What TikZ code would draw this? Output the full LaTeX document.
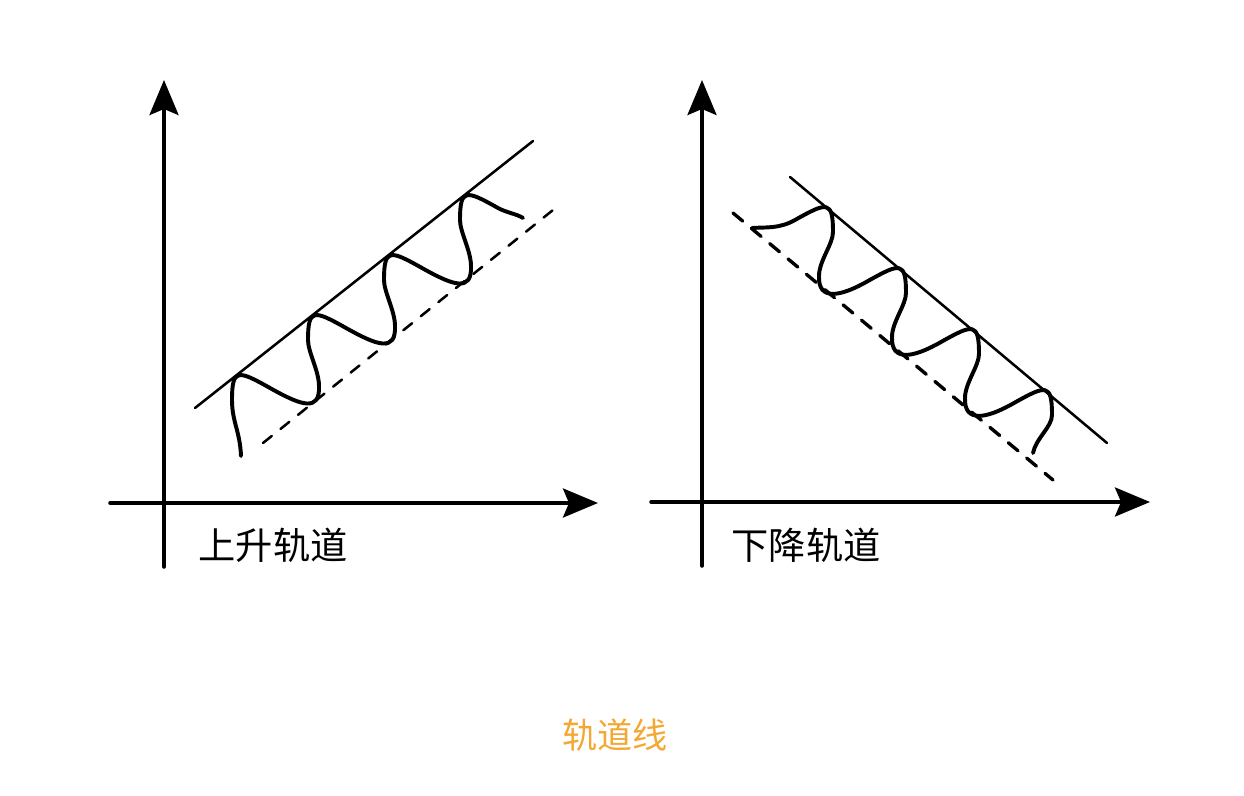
\documentclass[tikz,border=0pt]{standalone}
\usepackage{fontspec}
\newfontfamily\cjk{Noto Sans CJK SC}
\usepackage{tikz}
\usetikzlibrary{arrows.meta, calc}
\definecolor{TitleOrange}{RGB}{243,168,52}
\newcommand{\LabelFont}{\cjk\fontsize{26.5pt}{30pt}\selectfont}

\begin{document}
\begin{tikzpicture}[x=0.025cm, y=-0.025cm, line cap=round, line join=round,
	axis/.style={line width=2.5pt, -{Stealth[length=0.875cm, width=0.725cm, inset=0.15cm]}},
	channel/.style={line width=1.8pt},
	guide/.style={line width=1.8pt, dash pattern=on 8pt off 8pt},
	wave/.style={line width=2.8pt}]

	\useasboundingbox (0,0) rectangle (1244,796);

	% left panel: rising channel
	\coordinate (A0) at (164,567);
	\coordinate (A1) at (164,80);
	\coordinate (B0) at (110,503);
	\coordinate (B1) at (598,503);
	\draw[axis] (A0) -- (A1);
	\draw[axis] (B0) -- (B1);

	\draw[channel] (195,408) -- (533,141);
	\draw[guide] (263,443) -- (553,210);

	\draw[wave] (241,456) .. controls (240,431) and (232,422) .. (232,400)
		.. controls (232,368) and (238,370) .. (270,388)
		.. controls (302,406) and (320,412) .. (319,386)
		.. controls (319,371) and (308,352) .. (308,340)
		.. controls (308,308) and (314,310) .. (346,328)
		.. controls (378,346) and (396,352) .. (395,326)
		.. controls (395,311) and (384,292) .. (384,280)
		.. controls (384,248) and (390,250) .. (422,268)
		.. controls (454,286) and (472,292) .. (471,266)
		.. controls (471,251) and (460,232) .. (460,220)
		.. controls (460,188) and (466,190) .. (498,208)
		.. controls (506,212.5) and (517,214) .. (523,218);

	\node[inner sep=0pt] (up) at (273,545) {\LabelFont 上升轨道};

	% right panel: falling channel
	\coordinate (C0) at (702,566);
	\coordinate (C1) at (702,80);
	\coordinate (D0) at (651,502);
	\coordinate (D1) at (1150,502);
	\draw[axis] (C0) -- (C1);
	\draw[axis] (D0) -- (D1);

	\draw[channel] (790,177) -- (1107,443);
	\draw[guide, line width=2.4pt, dash pattern=on 9pt off 8pt] (733,213) -- (1053,480);

	\draw[wave] (752,228) .. controls (766,227) and (779,229) .. (795,220)
		.. controls (827,202) and (833,200) .. (833,232)
		.. controls (833,244) and (819,261) .. (819,276)
		.. controls (818,301) and (840,297) .. (868,281)
		.. controls (900,263) and (906,261) .. (906,293)
		.. controls (906,305) and (892,322) .. (892,337)
		.. controls (891,362) and (913,358) .. (941,342)
		.. controls (973,324) and (979,322) .. (979,354)
		.. controls (979,366) and (965,383) .. (965,398)
		.. controls (964,423) and (986,419) .. (1014,403)
		.. controls (1046,385) and (1052,383) .. (1052,415)
		.. controls (1052,427) and (1036,438) .. (1033,453);

	\node[inner sep=0pt] (down) at (806,545) {\LabelFont 下降轨道};

	% caption
	\node[inner sep=0pt, TitleOrange] (title) at (615,735) {\cjk\fontsize{25pt}{30pt}\selectfont 轨道线};

\end{tikzpicture}
\end{document}
